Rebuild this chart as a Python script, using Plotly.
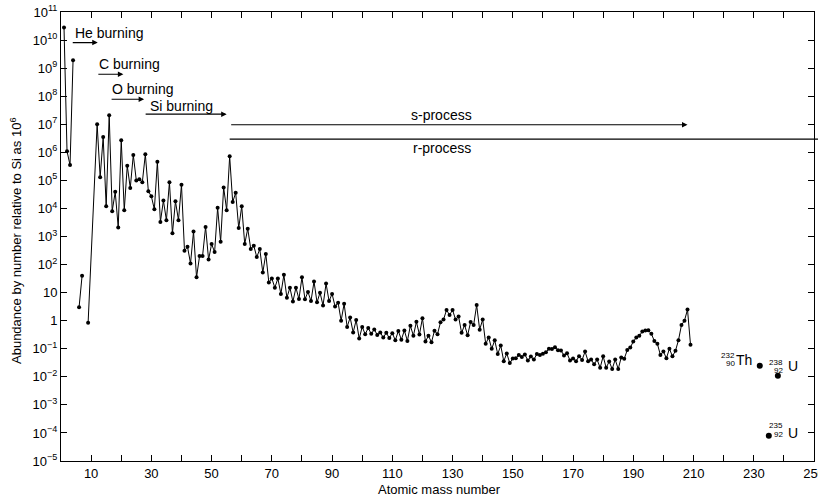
import math
import plotly.graph_objects as go

# ---------------- data ----------------
light_A = [1, 2, 3, 4]
light_val = [2.8e10, 1.1e6, 3.5e5, 1.9e9]

li_A = [6, 7]
li_val = [3.0, 40]

main_A = [9] + list(range(12, 210))
main_val = [
    0.85,                                                       # 9
    1.0e7, 1.3e5, 3.5e6, 1.2e4, 2.1e7, 8.0e3, 3.9e4, 2.1e3,     # 12-19
    2.7e6, 8.7e3, 3.3e5, 5.4e4, 8.0e5, 1.0e5, 1.1e5, 8.5e4,     # 20-27
    8.5e5, 4.1e4, 2.7e4, 9.3e3, 4.6e5, 3.3e3, 1.9e4, 3.8e3,     # 28-35
    8.6e4, 1.3e3, 1.8e4, 3.8e3, 7.0e4, 310, 430, 110,           # 36-43
    1.5e3, 35, 200, 200, 2.2e3, 150, 540, 280,                  # 44-51
    1.05e4, 650, 5.6e4, 8.7e3, 7.2e5, 1.7e4, 3.6e4, 2.0e3,      # 52-59
    1.2e4, 540, 1.9e3, 360, 470, 185, 355, 52,                  # 60-67
    240, 23, 32, 15, 32, 9.0, 43, 6.6,                          # 68-75
    15, 4.8, 15, 5.9, 35, 5.8, 10.6, 5.0,                       # 76-83
    25, 4.5, 10, 3.5, 21, 5.0, 9.0, 3.2,                        # 84-91
    4.4, 1.0, 4.0, 0.6, 1.3, 0.38, 1.05, 0.23,                  # 92-99
    0.6, 0.33, 0.55, 0.34, 0.49, 0.31, 0.38, 0.25,              # 100-107
    0.37, 0.24, 0.36, 0.20, 0.43, 0.21, 0.45, 0.19,             # 108-115
    0.66, 0.29, 0.91, 0.32, 1.23, 0.18, 0.29, 0.17,             # 116-123
    0.44, 0.33, 0.88, 1.1, 2.4, 1.6, 2.4, 1.1,                  # 124-131
    1.4, 0.37, 0.7, 0.3, 0.9, 0.7, 3.6, 0.48,                   # 132-139
    1.1, 0.15, 0.25, 0.10, 0.20, 0.065, 0.13, 0.036,            # 140-147
    0.068, 0.031, 0.045, 0.046, 0.060, 0.051, 0.063, 0.038,     # 148-155
    0.053, 0.041, 0.065, 0.060, 0.066, 0.075, 0.10, 0.098,      # 156-163
    0.114, 0.089, 0.086, 0.058, 0.069, 0.038, 0.045, 0.036,     # 164-171
    0.054, 0.040, 0.079, 0.036, 0.041, 0.028, 0.041, 0.021,     # 172-179
    0.054, 0.021, 0.035, 0.019, 0.041, 0.019, 0.049, 0.044,     # 180-187
    0.09, 0.11, 0.18, 0.25, 0.29, 0.41, 0.45, 0.46,             # 188-195
    0.34, 0.19, 0.15, 0.06, 0.08, 0.046, 0.10, 0.054,           # 196-203
    0.084, 0.20, 0.7, 1.0, 2.5, 0.14,                           # 204-209
]

act_A = [232, 238, 235]
act_val = [0.025, 0.011, 8e-5]
act_mass = ["232", "238", "235"]
act_Z = ["90", "92", "92"]
act_sym = ["Th", "U", "U"]

y_exps = list(range(-5, 12))
y_ticktext = []
for e in y_exps:
    if e == 0:
        y_ticktext.append("1")
    elif e == 1:
        y_ticktext.append("10")
    else:
        y_ticktext.append("10<sup>" + str(e).replace("-", "\u2212") + "</sup>")
y_tickvals = [10.0 ** e for e in y_exps]

x_tickvals = list(range(10, 251, 10))
x_ticktext = [str(v) if (v // 10) % 2 == 1 else " " for v in x_tickvals]

FONT = "Liberation Sans"

# ---------------- figure ----------------
fig = go.Figure()
line_style = dict(color="black", width=1.0)
mk = dict(color="black", size=4)
for xs, ys in [(light_A, light_val), (li_A, li_val), (main_A, main_val)]:
    fig.add_trace(go.Scatter(x=xs, y=ys, mode="lines+markers", line=line_style,
                             marker=mk, showlegend=False, cliponaxis=False))
fig.add_trace(go.Scatter(x=act_A, y=act_val, mode="markers",
                         marker=dict(color="black", size=6), showlegend=False))

ann = []
# process labels (text)
for txt, x, y in [("He burning", 4, 10.25), ("C burning", 11.9, 9.16),
                  ("O burning", 16.3, 8.24), ("Si burning", 28.8, 7.64)]:
    ann.append(dict(x=x, y=y, xref="x", yref="y", text=txt, showarrow=False,
                    xanchor="left", yanchor="middle",
                    font=dict(family=FONT, size=14, color="black")))
# process arrows
for x0, x1, y in [(3.4, 12.2, 9.91), (11.9, 20.7, 8.78), (16.3, 27.6, 7.89),
                  (27.6, 55.0, 7.36), (56.0, 208.0, 6.98)]:
    ann.append(dict(x=x1, y=y, ax=x0, ay=y, xref="x", yref="y", axref="x", ayref="y",
                    text="", showarrow=True, arrowhead=2, arrowsize=1.0,
                    arrowwidth=1.1, arrowcolor="black"))
ann.append(dict(x=126.4, y=7.32, xref="x", yref="y", text="s-process", showarrow=False,
                font=dict(family=FONT, size=14, color="black")))
ann.append(dict(x=126.4, y=6.15, xref="x", yref="y", text="r-process", showarrow=False,
                font=dict(family=FONT, size=14, color="black")))

# actinide labels (prescripts: mass number above, atomic number below)
label_cfg = [
    dict(mx=-23, my=10.5, zy=2, sa="right", sx=-6, sy=6, ma="right"),
    dict(mx=7.5, my=13.5, zy=5, sa="left", sx=8.5, sy=9.7, ma="right"),
    dict(mx=16, my=10, zy=1.5, sa="left", sx=17, sy=3, ma="right"),
]
for i in range(3):
    c = label_cfg[i]
    ya = math.log10(act_val[i])
    ann.append(dict(x=act_A[i], y=ya, xref="x", yref="y", text=act_mass[i], showarrow=False,
                    xanchor=c["ma"], yanchor="middle", xshift=c["mx"], yshift=c["my"],
                    font=dict(family=FONT, size=8, color="black")))
    ann.append(dict(x=act_A[i], y=ya, xref="x", yref="y", text=act_Z[i], showarrow=False,
                    xanchor=c["ma"], yanchor="middle", xshift=c["mx"], yshift=c["zy"],
                    font=dict(family=FONT, size=8, color="black")))
    ann.append(dict(x=act_A[i], y=ya, xref="x", yref="y", text=act_sym[i], showarrow=False,
                    xanchor=c["sa"], yanchor="middle", xshift=c["sx"], yshift=c["sy"],
                    font=dict(family=FONT, size=14, color="black")))

# axis titles
ann.append(dict(x=0.503, y=0, xref="paper", yref="paper", text="Atomic mass number",
                showarrow=False, xanchor="center", yanchor="top", yshift=-19,
                font=dict(family=FONT, size=13, color="black")))
ann.append(dict(x=0, y=0.49, xref="paper", yref="paper",
                text="Abundance by number relative to Si as 10<sup>6</sup>",
                showarrow=False, xanchor="center", yanchor="middle", xshift=-45,
                textangle=-90, font=dict(family=FONT, size=13, color="black")))

shapes = [dict(type="line", xref="paper", yref="y", x0=(56.0 / 250.0), x1=1.01,
               y0=10 ** 6.47, y1=10 ** 6.47, line=dict(color="black", width=1.1))]

fig.update_layout(
    width=818, height=497,
    margin=dict(l=61, r=4, t=12, b=36),
    paper_bgcolor="white", plot_bgcolor="white",
    font=dict(family=FONT, size=13, color="black"),
    annotations=ann, shapes=shapes,
    xaxis=dict(range=[0, 250], tickvals=x_tickvals, ticktext=x_ticktext,
               ticks="inside", ticklen=6, tickwidth=1, tickcolor="black",
               showline=True, linecolor="black", linewidth=1, mirror="ticks",
               showgrid=False, zeroline=False, automargin=False,
               ticklabeloverflow="allow"),
    yaxis=dict(type="log", range=[-5, 11], tickvals=y_tickvals, ticktext=y_ticktext,
               ticks="inside", ticklen=6, tickwidth=1, tickcolor="black",
               showline=True, linecolor="black", linewidth=1, mirror="ticks",
               showgrid=False, zeroline=False, automargin=False,
               ticklabeloverflow="allow"),
)

fig.write_html("out.html", config={"displayModeBar": False},
               post_script="document.body.style.margin='0';document.body.style.overflow='hidden';")
